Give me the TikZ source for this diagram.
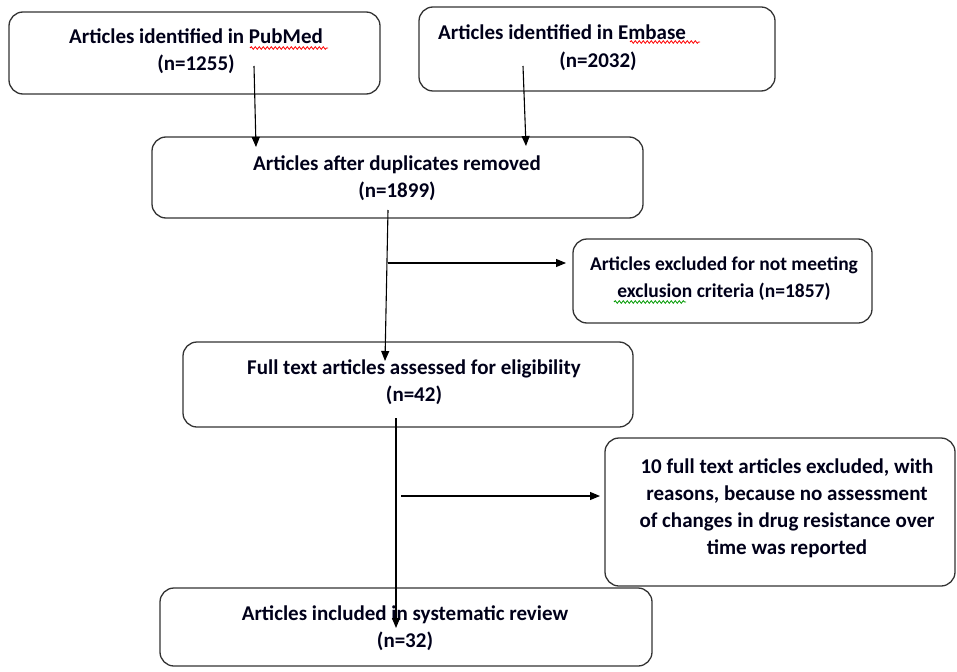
\documentclass[tikz,border=0pt]{standalone}
\usepackage{fontspec}
\setmainfont{Carlito}
\usetikzlibrary{arrows.meta,decorations.pathmorphing}
\begin{document}
\begin{tikzpicture}[x=1pt,y=-1pt,
  box/.style={draw=black!80, line width=1.3pt, rounded corners=14pt, inner sep=0pt},
  txt/.style={font=\bfseries\fontsize{21}{27}\selectfont, align=center, text=black!90!blue, inner sep=0pt},
  arr/.style={-{Triangle[length=10pt,width=8pt]}, line width=1.1pt},
  wavy/.style={decorate, decoration={snake, amplitude=1.3pt, segment length=4pt}, line width=0.8pt}]
\useasboundingbox (0,0) rectangle (957,671);
% boxes
\node[box, minimum width=371pt, minimum height=82pt] (b1) at (194.5,53) {};
\node[box, minimum width=356pt, minimum height=84pt] (b2) at (597,49) {};
\node[box, minimum width=491pt, minimum height=81pt] (b3) at (397.5,177.5) {};
\node[box, minimum width=299pt, minimum height=84pt] (b4) at (722.5,281) {};
\node[box, minimum width=450pt, minimum height=85pt] (b5) at (408,384.5) {};
\node[box, minimum width=350pt, minimum height=148pt] (b6) at (780,512) {};
\node[box, minimum width=492pt, minimum height=78pt] (b7) at (406,627) {};
% texts
\node[txt] (t1) at (196,51) {Articles identified in PubMed\\(n=1255)};
\node[txt, anchor=west] (t2a) at (438,32) {Articles identified in Embase};
\node[txt] (t2b) at (598,61) {(n=2032)};
\node[txt] (t3) at (397,178) {Articles after duplicates removed\\(n=1899)};
\node[txt, font=\bfseries\fontsize{19.5}{27}\selectfont] (t4) at (724,279) {Articles excluded for not meeting\\exclusion criteria (n=1857)};
\node[txt] (t5) at (414,382) {Full text articles assessed for eligibility\\(n=42)};
\node[txt] (t6) at (787,508) {10 full text articles excluded, with\\reasons, because no assessment\\of changes in drug resistance over\\time was reported};
\node[txt] (t7) at (405,628) {Articles included in systematic review\\(n=32)};
% spell-check underlines
\draw[wavy, red] (250,48) -- (328,48);
\draw[wavy, red] (630,42) -- (700,42);
\draw[wavy, green!60!black] (614,302) -- (686,302);
% connector end points
\coordinate (a1s) at (254,66);  \coordinate (a1e) at (256,147);
\coordinate (a2s) at (523,66);  \coordinate (a2e) at (526,146);
\coordinate (a3s) at (388,210); \coordinate (a3e) at (385,361);
\coordinate (h1s) at (388,263); \coordinate (h1e) at (566,263);
\coordinate (a4s) at (396,418); \coordinate (a4e) at (396,628);
\coordinate (h2s) at (401,496); \coordinate (h2e) at (600,496);
\draw[arr] (a1s) -- (a1e);
\draw[arr] (a2s) -- (a2e);
\draw[arr] (a3s) -- (a3e);
\draw[arr] (h1s) -- (h1e);
\draw[arr] (a4s) -- (a4e);
\draw[arr] (h2s) -- (h2e);
\end{tikzpicture}
\end{document}
